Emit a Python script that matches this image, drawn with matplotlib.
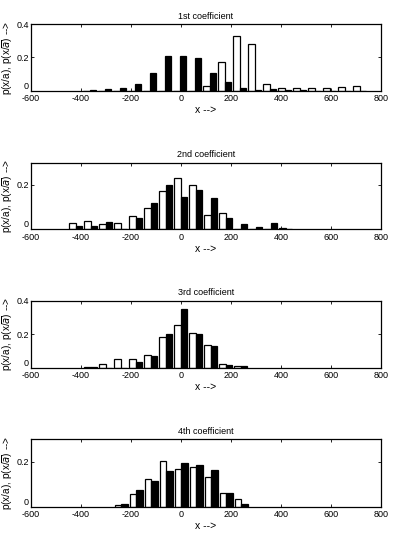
import numpy as np
import matplotlib
matplotlib.use("Agg")
import matplotlib.pyplot as plt

plt.rcParams['font.family'] = ['Liberation Sans', 'DejaVu Sans']

titles = ["1st coefficient", "2nd coefficient", "3rd coefficient", "4th coefficient"]

# bin centres per panel
centers1 = [-365, -305, -245, -185, -125, -65, -5, 55, 115, 175, 235, 295, 355, 415, 475, 535, 595, 655, 715]
white1 = [0.0, 0.0, 0.0, 0.0, 0.0, 0.0, 0.0, 0.0, 0.026, 0.175, 0.331, 0.281, 0.039, 0.016, 0.016, 0.014, 0.015, 0.02, 0.03]
black1 = [0.006, 0.012, 0.018, 0.042, 0.107, 0.209, 0.209, 0.197, 0.105, 0.052, 0.015, 0.004, 0.012, 0.005, 0.003, 0.0, 0.0, 0.0, 0.0]

centers2 = [-422, -362, -302, -242, -182, -122, -62, -2, 58, 118, 178, 238, 298, 358, 418]
white2 = [0.028, 0.037, 0.025, 0.027, 0.06, 0.094, 0.172, 0.232, 0.2, 0.063, 0.072, 0.0, 0.0, 0.0, 0.005]
black2 = [0.015, 0.013, 0.034, 0.003, 0.052, 0.117, 0.2, 0.147, 0.177, 0.142, 0.05, 0.024, 0.012, 0.027, 0.003]

centers3 = [-362, -302, -242, -182, -122, -62, -2, 58, 118, 178, 238]
white3 = [0.006, 0.024, 0.052, 0.052, 0.078, 0.182, 0.258, 0.208, 0.134, 0.022, 0.008]
black3 = [0.004, 0.0, 0.0, 0.032, 0.07, 0.202, 0.352, 0.202, 0.128, 0.018, 0.008]

centers4 = [-240, -180, -120, -60, 0, 60, 120, 180, 240]
white4 = [0.008, 0.055, 0.125, 0.204, 0.17, 0.178, 0.131, 0.062, 0.036]
black4 = [0.011, 0.073, 0.116, 0.16, 0.196, 0.184, 0.162, 0.062, 0.013]

panels = [
    (centers1, white1, black1, 0.4, [0, 0.2, 0.4]),
    (centers2, white2, black2, 0.3, [0, 0.2]),
    (centers3, white3, black3, 0.4, [0, 0.2, 0.4]),
    (centers4, white4, black4, 0.3, [0, 0.2]),
]

W, H = 411, 539
fig = plt.figure(figsize=(W / 100, H / 100), dpi=100)
# axes boxes in pixel coords (left, right, top, bottom)
boxes = [(31, 381, 24.3, 90.7), (31, 381, 162.7, 229.3), (31, 381, 301, 367.7), (31, 381, 439.3, 506.7)]

bw = 26
for (c, w, b, ymax, yt), box, title in zip(panels, boxes, titles):
    l, r, t, bt = box
    ax = fig.add_axes([l / W, 1 - bt / H, (r - l) / W, (bt - t) / H])
    c = np.array(c, dtype=float)
    ax.bar(c - bw / 2, w, width=bw, color='white', edgecolor='black', linewidth=0.9, zorder=2)
    ax.bar(c + bw / 2, b, width=bw, color='black', edgecolor='black', linewidth=0.9, zorder=2)
    ax.set_xlim(-600, 800)
    ax.set_ylim(0, ymax)
    ax.set_xticks([-600, -400, -200, 0, 200, 400, 600, 800])
    ax.set_xticklabels(['-600', '-400', '-200', '0', '200', '400', '600', '800'])
    ax.set_yticks(yt)
    ax.set_yticklabels(['0' if v == 0 else f'{v:.1f}' for v in yt])
    ax.tick_params(direction='in', top=True, right=True, length=2.5, width=0.6,
                   colors='black')
    ax.tick_params(axis='x', labelsize=6.5, pad=2.5)
    ax.tick_params(axis='y', labelsize=6.5, pad=1.5)
    ylabs = ax.get_yticklabels()
    ylabs[0].set_verticalalignment('bottom')
    for s in ax.spines.values():
        s.set_linewidth(0.9)
    ax.set_title(title, fontsize=6.5, pad=4)
    ax.set_xlabel('x -->', fontsize=7.5, labelpad=1.5)
    ax.set_ylabel(r'p(x/a), p(x/$\overline{a}$) -->', fontsize=7.2, labelpad=1)

fig.savefig('out.png', dpi=100)
